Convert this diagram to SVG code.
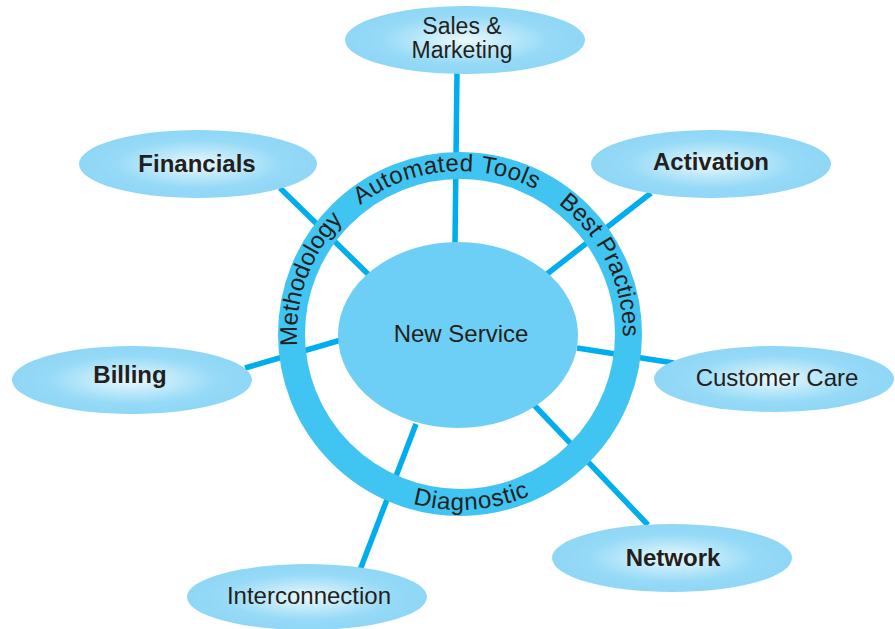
<svg xmlns="http://www.w3.org/2000/svg" width="895" height="629" viewBox="0 0 895 629">
<style>
.conn{stroke:#00aeef;stroke-width:5.5;fill:none;stroke-linecap:butt}
.node{fill:url(#ng)}
.lbl{font-family:"Liberation Sans",Arial,sans-serif;font-size:24px;fill:#231f20;text-anchor:middle}
.b{font-weight:bold}
.ring{font-family:"Liberation Sans",Arial,sans-serif;font-size:24px;fill:#231f20;text-anchor:middle}
</style>
<defs>
<radialGradient id="ng" cx="50%" cy="50%" r="50%">
<stop offset="0" stop-color="#ecf9fe"/>
<stop offset="0.35" stop-color="#bfe9fa"/>
<stop offset="0.7" stop-color="#96daf7"/>
<stop offset="1" stop-color="#8fd7f6"/>
</radialGradient>
<path id="pTop" d="M312.3,265.1 A163,163 0 0 1 593.5,240.5"/>
<path id="pLeft" d="M335.1,438.8 A163,163 0 0 1 431.7,173.5"/>
<path id="pRight" d="M471.4,171.4 A163,163 0 0 1 595.1,425.1"/>
<path id="pBot" d="M314.1,432.4 A176,176 0 0 0 618.2,411.2"/>
</defs>
<rect width="895" height="629" fill="#ffffff"/>
<g id="connectors">
<line class="conn" x1="457" y1="72" x2="455" y2="244"/>
<line class="conn" x1="280" y1="188" x2="370" y2="276"/>
<line class="conn" x1="651" y1="193" x2="547" y2="274"/>
<line class="conn" x1="245" y1="368" x2="341" y2="340"/>
<line class="conn" x1="577" y1="348" x2="674" y2="363"/>
<line class="conn" x1="534" y1="405" x2="648" y2="525"/>
<line class="conn" x1="416" y1="424" x2="360" y2="570"/>
</g>
<g id="ring">
<circle cx="460" cy="334" r="168.5" fill="none" stroke="#40c4f1" stroke-width="27"/>
<text class="ring" letter-spacing="0.5"><textPath href="#pTop" startOffset="50%">Automated Tools</textPath></text>
<text class="ring"><textPath href="#pLeft" startOffset="50%">Methodology</textPath></text>
<text class="ring"><textPath href="#pRight" startOffset="50%">Best Practices</textPath></text>
<text class="ring" letter-spacing="0.8"><textPath href="#pBot" startOffset="50%">Diagnostic</textPath></text>
</g>
<g id="new-service">
<ellipse cx="458" cy="335" rx="120" ry="93" fill="#6dcff5"/>
<text class="lbl" x="461" y="342">New Service</text>
</g>
<g id="sales-marketing">
<ellipse class="node" cx="465" cy="40" rx="120" ry="34"/>
<text class="lbl" x="462" y="34" style="font-size:23px">Sales &amp;</text>
<text class="lbl" x="462" y="58" style="font-size:23px">Marketing</text>
</g>
<g id="financials">
<ellipse class="node" cx="198" cy="164" rx="119" ry="34"/>
<text class="lbl b" x="197" y="172">Financials</text>
</g>
<g id="activation">
<ellipse class="node" cx="711" cy="164" rx="120" ry="34"/>
<text class="lbl b" x="711" y="170">Activation</text>
</g>
<g id="billing">
<ellipse class="node" cx="132" cy="380" rx="120" ry="34"/>
<text class="lbl b" x="130" y="383">Billing</text>
</g>
<g id="customer-care">
<ellipse class="node" cx="774" cy="379" rx="120" ry="33"/>
<text class="lbl" x="777" y="386">Customer Care</text>
</g>
<g id="network">
<ellipse class="node" cx="672" cy="558" rx="120" ry="34"/>
<text class="lbl b" x="673" y="566">Network</text>
</g>
<g id="interconnection">
<ellipse class="node" cx="307" cy="597" rx="120" ry="33"/>
<text class="lbl" x="309" y="604">Interconnection</text>
</g>
</svg>
